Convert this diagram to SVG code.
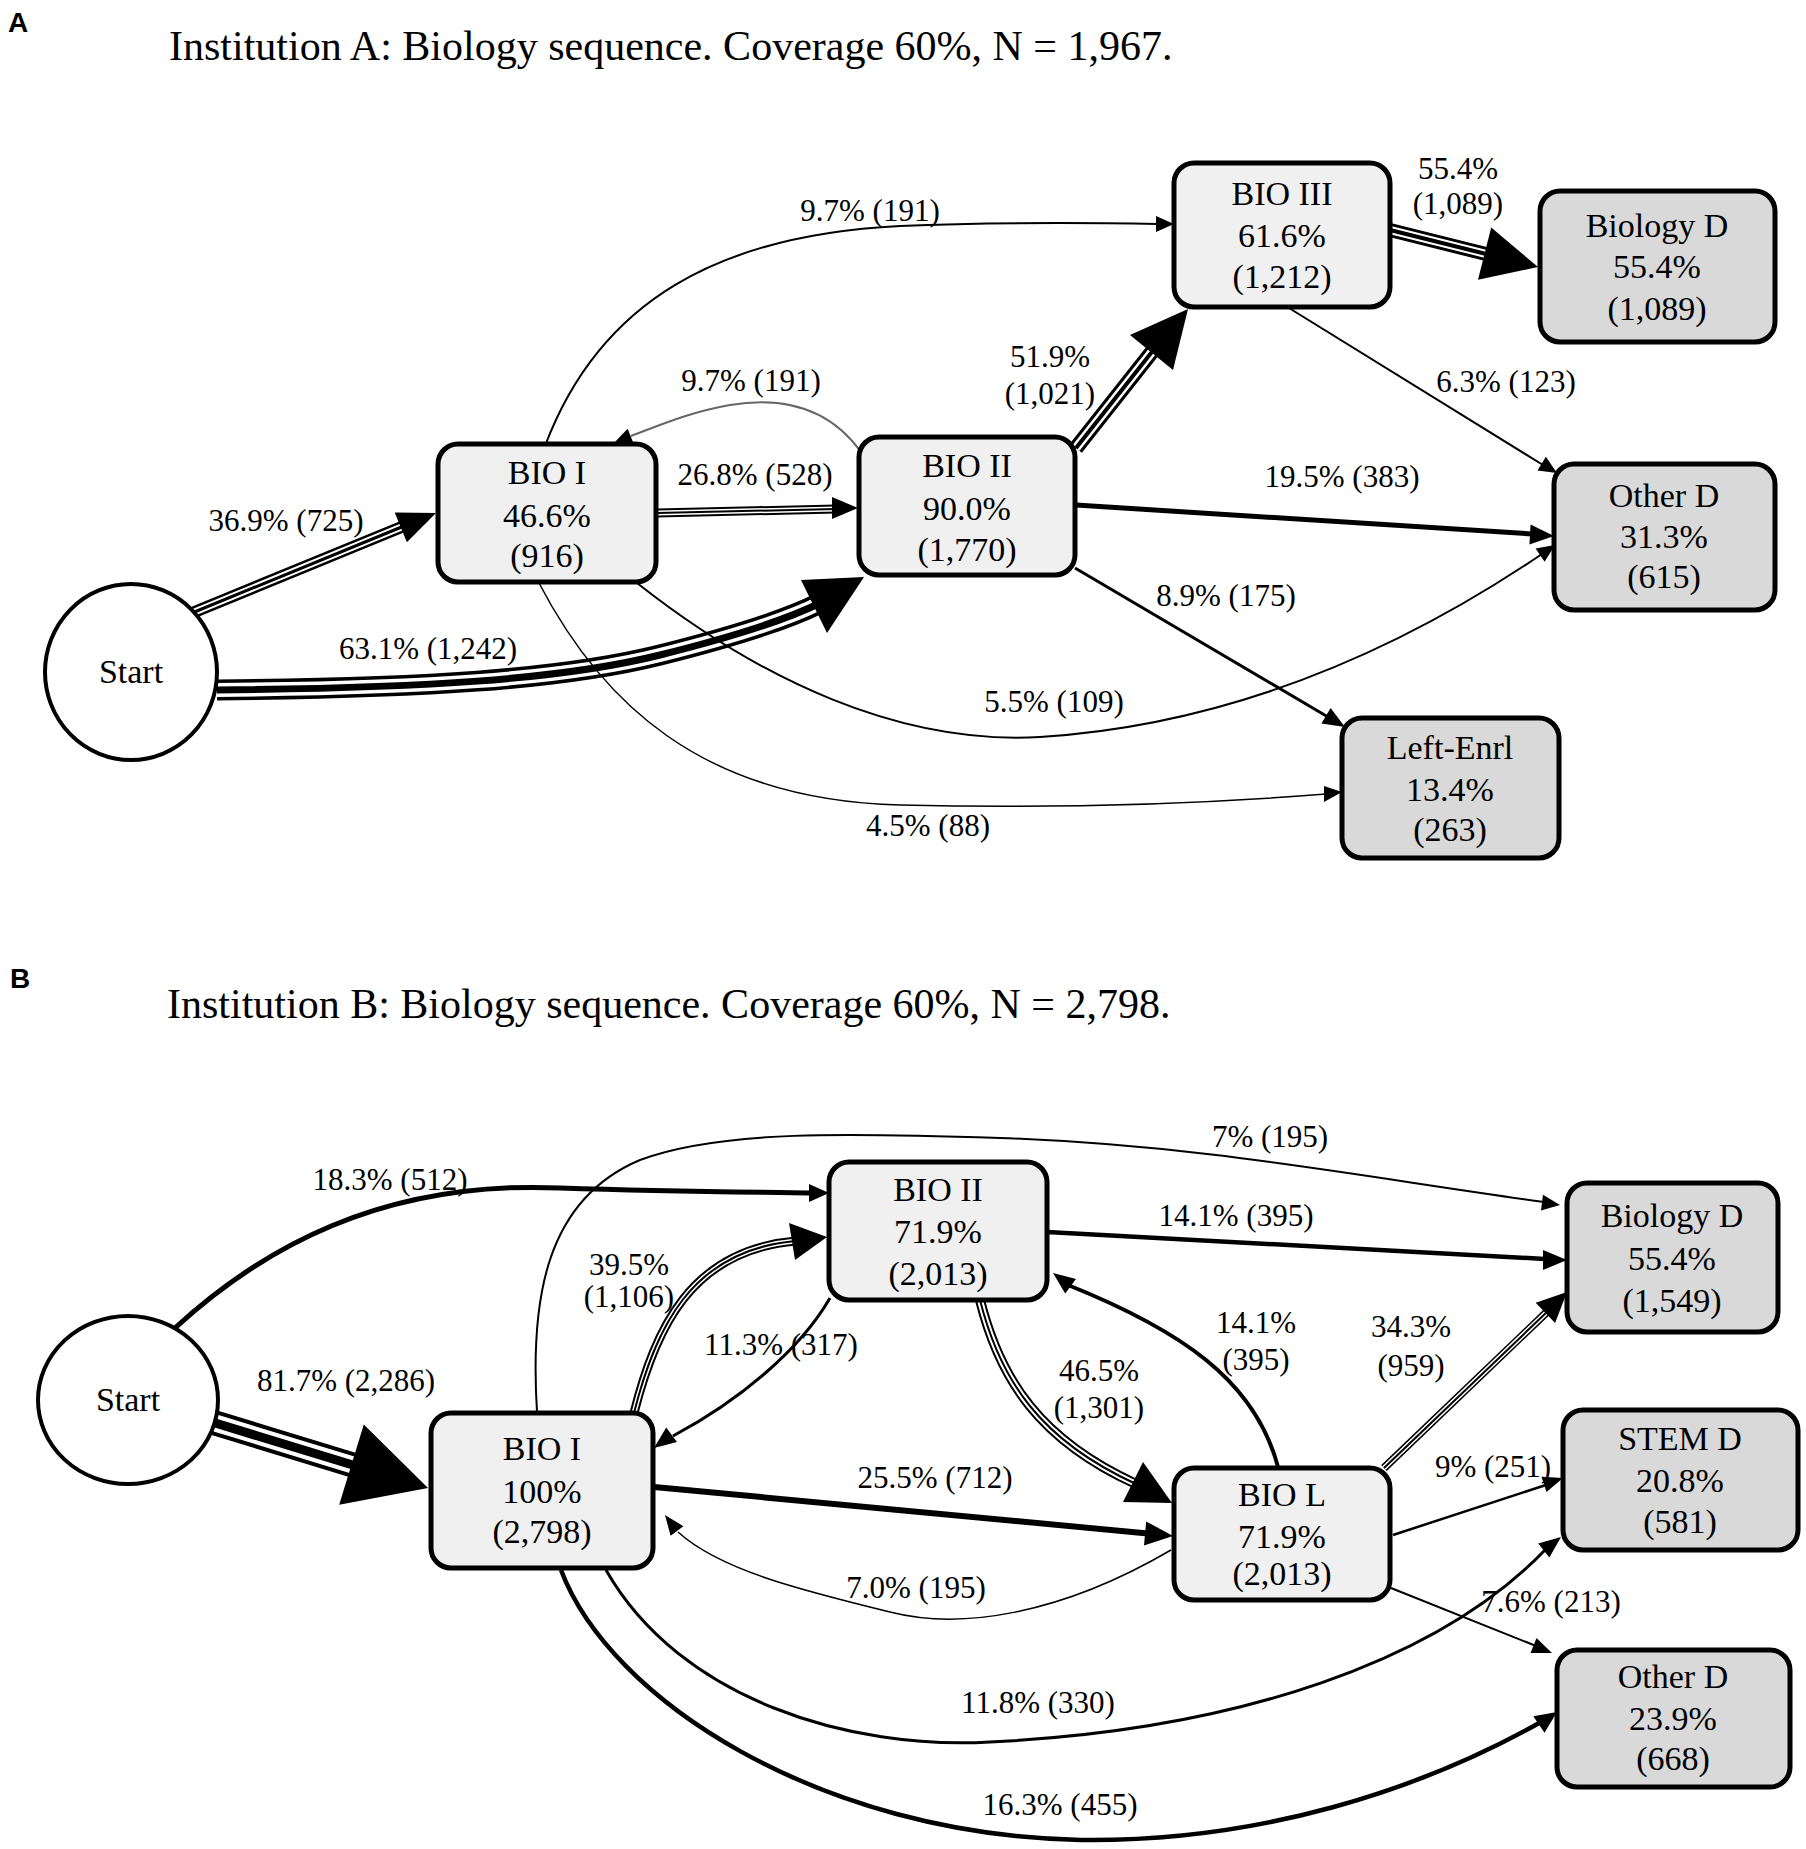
<svg xmlns="http://www.w3.org/2000/svg" xmlns:xlink="http://www.w3.org/1999/xlink" width="1806" height="1849" viewBox="0 0 1806 1849">
<style>
text{font-family:"Liberation Serif","Times New Roman",serif;fill:#000}
.panel{font-family:"Liberation Sans",Arial,sans-serif;font-weight:bold;font-size:28px}
.title{font-size:42px}
.nt{font-size:34px;text-anchor:middle}
.el{font-size:31px;text-anchor:middle}
.box{stroke:#000;stroke-width:5}
.bio{fill:#f0f0f0}
.term{fill:#d9d9d9}
.start{fill:#fff;stroke:#000;stroke-width:4}
.e{fill:none;stroke:#000}
.w{fill:none;stroke:#fff}
.ah{fill:#000}
</style>
<defs>
<path id="pA1" d="M192,613 L404,526"/>
<path id="pA2" d="M217,690 C420,688 560,680 660,655 C740,635 790,618 820,603"/>
<path id="pA3" d="M657,513 L836,509"/>
<path id="pA6" d="M1076,448 L1155,348"/>
<path id="pA7" d="M1390,230 L1490,255"/>
<path id="pB2" d="M212,1422 L356,1466"/>
<path id="pB3" d="M634,1413 C655,1330 690,1250 796,1241"/>
<path id="pB7" d="M980,1300 C1000,1380 1040,1440 1136,1484"/>
<path id="pB9" d="M1384,1468 L1549,1310"/>
</defs>
<text class="panel" x="8" y="32">A</text>
<text class="title" x="169" y="60">Institution A: Biology sequence. Coverage 60%, N = 1,967.</text>
<text class="panel" x="10" y="988">B</text>
<text class="title" x="167" y="1018">Institution B: Biology sequence. Coverage 60%, N = 2,798.</text>
<g id="connectors">
<!-- Panel A -->
<g id="eA1"><use xlink:href="#pA1" class="e" stroke-width="12"/><use xlink:href="#pA1" class="w" stroke-width="7"/><use xlink:href="#pA1" class="e" stroke-width="3"/><polygon class="ah" points="436,513 406.9,542.2 394.7,512.6"/></g>
<g id="eA2"><use xlink:href="#pA2" class="e" stroke-width="21"/><use xlink:href="#pA2" class="w" stroke-width="14"/><use xlink:href="#pA2" class="e" stroke-width="7"/><polygon class="ah" points="864,577 801,580 827,633"/></g>
<g id="eA3"><use xlink:href="#pA3" class="e" stroke-width="9"/><use xlink:href="#pA3" class="w" stroke-width="5"/><use xlink:href="#pA3" class="e" stroke-width="2"/><polygon class="ah" points="858,508 832,497 832,519"/></g>
<g id="eA4"><path d="M861,452 C820,395 760,400 730,405 C690,412 660,425 631,436" fill="none" stroke="#666" stroke-width="2"/><polygon class="ah" points="614,443 633.6,443.6 627.6,428.8"/></g>
<g id="eA5"><path class="e" stroke-width="2" d="M545,446 C600,300 720,235 900,226 C1000,222 1100,223 1158,224"/><polygon class="ah" points="1174,224 1156,216 1156,232"/></g>
<g id="eA6"><use xlink:href="#pA6" class="e" stroke-width="15"/><use xlink:href="#pA6" class="w" stroke-width="9"/><use xlink:href="#pA6" class="e" stroke-width="4"/><polygon class="ah" points="1188,309 1130,335 1173,370"/></g>
<g id="eA7"><use xlink:href="#pA7" class="e" stroke-width="14"/><use xlink:href="#pA7" class="w" stroke-width="8"/><use xlink:href="#pA7" class="e" stroke-width="4"/><polygon class="ah" points="1538,267 1478,279.8 1491.2,227.4"/></g>
<g id="eA8"><path class="e" stroke-width="2" d="M1289,308 L1543,465"/><polygon class="ah" points="1557,473 1537.5,470.4 1545.9,456.8"/></g>
<g id="eA9"><path class="e" stroke-width="5" d="M1076,505 L1532,534"/><polygon class="ah" points="1554,536 1529.4,544.4 1530.6,524.4"/></g>
<g id="eA10"><path class="e" stroke-width="3" d="M1075,568 L1328,717"/><polygon class="ah" points="1345,727 1321.4,723.6 1330.6,708"/></g>
<g id="eA11"><path class="e" stroke-width="2" d="M637,583 C760,680 900,745 1040,737 C1230,725 1400,650 1542,554"/><polygon class="ah" points="1555,545 1544.6,561.7 1535.6,548.5"/></g>
<g id="eA12"><path class="e" stroke-width="1.5" d="M539,583 C600,700 700,800 900,805 C1100,810 1250,800 1326,794"/><polygon class="ah" points="1342,792 1324,786 1324,802"/></g>
<!-- Panel B -->
<g id="eB1"><path class="e" stroke-width="5" d="M175,1328 C260,1250 380,1180 560,1188 C680,1192 760,1192 812,1193"/><polygon class="ah" points="829,1193 809,1184 809,1202"/></g>
<g id="eB2"><use xlink:href="#pB2" class="e" stroke-width="25"/><use xlink:href="#pB2" class="w" stroke-width="17"/><use xlink:href="#pB2" class="e" stroke-width="9"/><polygon class="ah" points="428,1488 339.2,1504.8 363.8,1424.4"/></g>
<g id="eB3"><use xlink:href="#pB3" class="e" stroke-width="9"/><use xlink:href="#pB3" class="w" stroke-width="5"/><use xlink:href="#pB3" class="e" stroke-width="2"/><polygon class="ah" points="827,1237 789,1223 795,1260"/></g>
<g id="eB4"><path class="e" stroke-width="3" d="M830,1298 C800,1350 740,1400 673,1436"/><polygon class="ah" points="654,1448 677,1442 666.2,1427.6"/></g>
<g id="eB5"><path class="e" stroke-width="2" d="M537,1412 C530,1300 545,1200 640,1160 C720,1130 850,1133 1000,1138 C1200,1145 1350,1175 1544,1202"/><polygon class="ah" points="1560,1205 1541,1210.5 1543,1194.7"/></g>
<g id="eB6"><path class="e" stroke-width="4.5" d="M1047,1232 L1545,1259"/><polygon class="ah" points="1567,1260 1543,1270 1543,1250"/></g>
<g id="eB7"><use xlink:href="#pB7" class="e" stroke-width="10"/><use xlink:href="#pB7" class="w" stroke-width="6"/><use xlink:href="#pB7" class="e" stroke-width="2"/><polygon class="ah" points="1172,1503 1123,1502 1143,1462"/></g>
<g id="eB8"><path class="e" stroke-width="4" d="M1278,1467 C1255,1380 1180,1330 1068,1285"/><polygon class="ah" points="1053,1273 1076,1279 1065.2,1293.4"/></g>
<g id="eB9"><use xlink:href="#pB9" class="e" stroke-width="8"/><use xlink:href="#pB9" class="w" stroke-width="5"/><use xlink:href="#pB9" class="e" stroke-width="2"/><polygon class="ah" points="1567,1292 1555.1,1322.9 1535.7,1302.7"/></g>
<g id="eB10"><path class="e" stroke-width="2.5" d="M1393,1535 L1546,1485"/><polygon class="ah" points="1563,1478 1546.5,1492 1541.5,1476.8"/></g>
<g id="eB11"><path class="e" stroke-width="1.5" d="M1171,1550 C1060,1615 960,1630 890,1612 C800,1590 720,1570 678,1532"/><polygon class="ah" points="665,1515 683.4,1526.2 670.6,1535.8"/></g>
<g id="eB12"><path class="e" stroke-width="2" d="M1391,1588 L1536,1646"/><polygon class="ah" points="1552,1653 1530.5,1652.9 1536.5,1638.1"/></g>
<g id="eB13"><path class="e" stroke-width="3" d="M606,1570 C680,1700 850,1750 990,1742 C1240,1730 1440,1660 1546,1549"/><polygon class="ah" points="1561,1537 1549.4,1557.6 1538.2,1543.6"/></g>
<g id="eB14"><path class="e" stroke-width="4.5" d="M561,1570 C610,1700 820,1835 1081,1840 C1260,1842 1420,1790 1541,1722"/><polygon class="ah" points="1557,1712 1544.5,1732.7 1533.3,1716.2"/></g>
<g id="eB15"><path class="e" stroke-width="6" d="M654,1487 L1148,1533.5"/><polygon class="ah" points="1173,1536 1144,1545.4 1146.2,1521.4"/></g>
</g>
<g id="edge-labels">
<text class="el" x="870" y="221">9.7% (191)</text>
<text class="el" x="1458" y="179">55.4%</text>
<text class="el" x="1458" y="214">(1,089)</text>
<text class="el" x="1050" y="367">51.9%</text>
<text class="el" x="1050" y="404">(1,021)</text>
<text class="el" x="751" y="391">9.7% (191)</text>
<text class="el" x="1506" y="392">6.3% (123)</text>
<text class="el" x="755" y="485">26.8% (528)</text>
<text class="el" x="286" y="531">36.9% (725)</text>
<text class="el" x="1342" y="487">19.5% (383)</text>
<text class="el" x="428" y="659">63.1% (1,242)</text>
<text class="el" x="1226" y="606">8.9% (175)</text>
<text class="el" x="1054" y="712">5.5% (109)</text>
<text class="el" x="928" y="836">4.5% (88)</text>
<text class="el" x="390" y="1190">18.3% (512)</text>
<text class="el" x="1270" y="1147">7% (195)</text>
<text class="el" x="1236" y="1226">14.1% (395)</text>
<text class="el" x="629" y="1275">39.5%</text>
<text class="el" x="629" y="1307">(1,106)</text>
<text class="el" x="781" y="1355">11.3% (317)</text>
<text class="el" x="346" y="1391">81.7% (2,286)</text>
<text class="el" x="1099" y="1381">46.5%</text>
<text class="el" x="1099" y="1418">(1,301)</text>
<text class="el" x="1256" y="1333">14.1%</text>
<text class="el" x="1256" y="1370">(395)</text>
<text class="el" x="1411" y="1337">34.3%</text>
<text class="el" x="1411" y="1376">(959)</text>
<text class="el" x="935" y="1488">25.5% (712)</text>
<text class="el" x="1493" y="1477">9% (251)</text>
<text class="el" x="916" y="1598">7.0% (195)</text>
<text class="el" x="1551" y="1612">7.6% (213)</text>
<text class="el" x="1038" y="1713">11.8% (330)</text>
<text class="el" x="1060" y="1815">16.3% (455)</text>
</g>
<!-- Panel A nodes -->
<g id="A_start"><ellipse class="start" cx="131" cy="672" rx="86" ry="88"/><text class="nt" x="131" y="683">Start</text></g>
<g id="A_bio1"><rect class="box bio" x="438" y="444" width="218" height="138" rx="20"/><text class="nt" x="547" y="484">BIO I</text><text class="nt" x="547" y="527">46.6%</text><text class="nt" x="547" y="567">(916)</text></g>
<g id="A_bio2"><rect class="box bio" x="859" y="437" width="216" height="138" rx="20"/><text class="nt" x="967" y="477">BIO II</text><text class="nt" x="967" y="520">90.0%</text><text class="nt" x="967" y="561">(1,770)</text></g>
<g id="A_bio3"><rect class="box bio" x="1174" y="163" width="216" height="144" rx="20"/><text class="nt" x="1282" y="205">BIO III</text><text class="nt" x="1282" y="247">61.6%</text><text class="nt" x="1282" y="288">(1,212)</text></g>
<g id="A_biod"><rect class="box term" x="1540" y="191" width="235" height="151" rx="20"/><text class="nt" x="1657" y="237">Biology D</text><text class="nt" x="1657" y="278">55.4%</text><text class="nt" x="1657" y="320">(1,089)</text></g>
<g id="A_otherd"><rect class="box term" x="1554" y="464" width="221" height="146" rx="20"/><text class="nt" x="1664" y="507">Other D</text><text class="nt" x="1664" y="548">31.3%</text><text class="nt" x="1664" y="588">(615)</text></g>
<g id="A_left"><rect class="box term" x="1342" y="718" width="217" height="140" rx="20"/><text class="nt" x="1450" y="759">Left-Enrl</text><text class="nt" x="1450" y="801">13.4%</text><text class="nt" x="1450" y="841">(263)</text></g>
<!-- Panel B nodes -->
<g id="B_start"><ellipse class="start" cx="128" cy="1400" rx="90" ry="84"/><text class="nt" x="128" y="1411">Start</text></g>
<g id="B_bio1"><rect class="box bio" x="431" y="1413" width="222" height="155" rx="20"/><text class="nt" x="542" y="1460">BIO I</text><text class="nt" x="542" y="1503">100%</text><text class="nt" x="542" y="1543">(2,798)</text></g>
<g id="B_bio2"><rect class="box bio" x="829" y="1162" width="218" height="138" rx="20"/><text class="nt" x="938" y="1201">BIO II</text><text class="nt" x="938" y="1243">71.9%</text><text class="nt" x="938" y="1285">(2,013)</text></g>
<g id="B_biod"><rect class="box term" x="1567" y="1183" width="211" height="149" rx="20"/><text class="nt" x="1672" y="1227">Biology D</text><text class="nt" x="1672" y="1270">55.4%</text><text class="nt" x="1672" y="1312">(1,549)</text></g>
<g id="B_stemd"><rect class="box term" x="1563" y="1410" width="235" height="140" rx="20"/><text class="nt" x="1680" y="1450">STEM D</text><text class="nt" x="1680" y="1492">20.8%</text><text class="nt" x="1680" y="1533">(581)</text></g>
<g id="B_biol"><rect class="box bio" x="1174" y="1468" width="216" height="132" rx="20"/><text class="nt" x="1282" y="1506">BIO L</text><text class="nt" x="1282" y="1548">71.9%</text><text class="nt" x="1282" y="1585">(2,013)</text></g>
<g id="B_otherd"><rect class="box term" x="1557" y="1650" width="233" height="137" rx="20"/><text class="nt" x="1673" y="1688">Other D</text><text class="nt" x="1673" y="1730">23.9%</text><text class="nt" x="1673" y="1770">(668)</text></g>
</svg>
